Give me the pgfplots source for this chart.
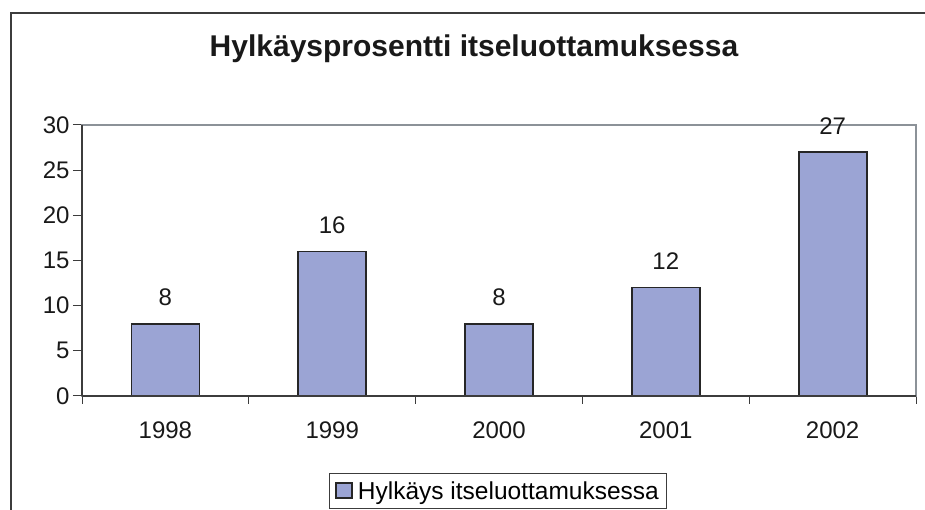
\documentclass[border=0pt]{standalone}
\usepackage{fontspec}
\setmainfont{Liberation Sans}
\usepackage{pgfplots}
\pgfplotsset{compat=1.18}
\definecolor{barfill}{RGB}{155,164,212}
\definecolor{boxgray}{RGB}{140,146,152}
\definecolor{spine}{RGB}{60,60,60}
\begin{document}
\begin{tikzpicture}[x=1pt,y=1pt]
\path[use as bounding box] (0,0) rectangle (925,510);
\draw[line width=1.5pt, color=spine] (11,0) -- (11,497) -- (925,497);
\node[font=\fontsize{30}{36}\selectfont\bfseries, text=black!90] at (474,461) {Hylkäysprosentti itseluottamuksessa};
\begin{axis}[
  at={(82pt,114pt)}, anchor=south west,
  scale only axis, width=834pt, height=271pt,
  xmin=-0.5, xmax=4.5, ymin=0, ymax=30,
  ytick={0,5,...,30},
  xtick={0,1,2,3,4},
  xticklabels={1998,1999,2000,2001,2002},
  minor xtick={-0.5,0.5,1.5,2.5,3.5,4.5},
  tick align=outside,
  tick pos=left,
  /pgf/number format/assume math mode=true,
  major tick length=9pt, minor tick length=8pt,
  major x tick style={draw=none},
  every tick/.style={color=spine, line width=1pt},
  minor x tick style={color=spine, line width=1pt},
  axis line style={draw=boxgray, line width=1.5pt},
  tick label style={font=\fontsize{24}{28}\selectfont, text=black!90},
  xticklabel style={yshift=-13pt},
  clip=false,
  legend style={at={(rel axis cs:0.4988,-0.284)}, anchor=north, draw=spine, line width=1pt,
    font=\fontsize{24.5}{28}\selectfont, inner xsep=6pt, inner ysep=6pt},
  legend cell align=left,
]
\addplot[ybar, bar width=68pt, bar shift=0pt, fill=barfill, draw=black!85, line width=1.8pt,
  nodes near coords,
  every node near coord/.style={font=\fontsize{24}{28}\selectfont, text=black!90, anchor=south, inner sep=0pt, yshift=17pt},
  legend image code/.code={\draw[fill=barfill, draw=black!85, line width=1.8pt] (0pt,-7pt) rectangle (16pt,8pt); \path (19pt,0pt);}]
  coordinates {(0,8) (1,16) (2,8) (3,12) (4,27)};
\addlegendentry{Hylkäys itseluottamuksessa}
\draw[spine, line width=1.5pt] (rel axis cs:0,0) -- (rel axis cs:0,1);
\draw[spine, line width=1.2pt] (rel axis cs:0,0) -- (rel axis cs:1,0);
\end{axis}
\end{tikzpicture}
\end{document}
